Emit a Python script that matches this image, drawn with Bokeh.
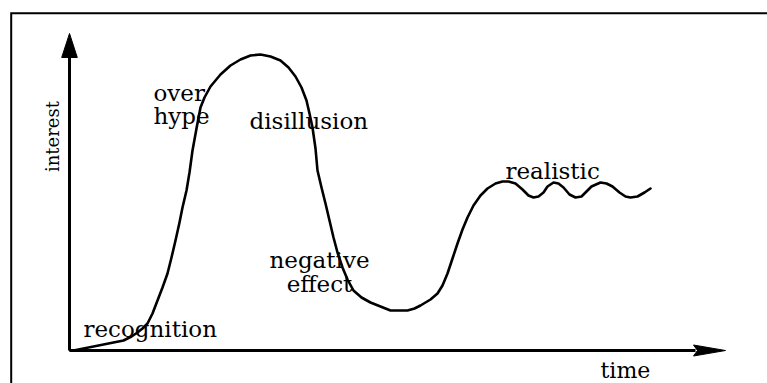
import numpy as np
from bokeh.plotting import figure
from bokeh.models import Range1d
from bokeh.core.properties import value
from bokeh.embed import file_html
from bokeh.resources import INLINE

# Hype-cycle curve (time, interest)
time = [1, 4, 14, 24, 39, 54, 62, 68, 73, 78, 83, 88, 93, 98, 102, 106, 110, 113, 117, 120,
        123, 127, 131, 135, 141, 151, 161, 171, 181, 191, 201, 211, 219, 226, 232, 237, 240,
        243, 246, 248, 252, 256, 260, 264, 268, 273, 278, 284, 292, 301, 311, 321, 331, 338,
        345, 351, 361, 368, 373, 378, 383, 388, 393, 398, 404, 411, 418, 426, 433, 439, 446,
        453, 459, 464, 469, 474, 478, 484, 489, 494, 500, 506, 512, 517, 522, 531, 537, 543,
        550, 556, 561, 568, 575, 581]
interest = [0, 0, 2, 4, 7, 10, 14, 18, 22, 27, 37, 50, 63, 77, 93, 110, 128, 143, 160, 178,
            200, 222, 243, 253, 264, 276, 285, 291, 295, 296, 294, 290, 283, 274, 263, 250, 237,
            223, 202, 180, 163, 147, 130, 113, 98, 83, 71, 60, 53, 48, 44, 40, 40, 40,
            42, 45, 51, 57, 65, 77, 92, 107, 121, 133, 145, 155, 162, 167, 169, 169, 167,
            161, 155, 153, 154, 158, 164, 168, 167, 163, 156, 153, 154, 159, 164, 168, 167, 164,
            158, 154, 153, 154, 158, 162]

# Annotation texts and their anchor points (left / baseline) in data units
label_text = ["over", "hype", "disillusion", "realistic", "recognition"]
label_x = [84, 84, 180, 436, 14]
label_y = [258, 235, 230, 180, 22]
neg_text = ["negative", "effect"]
neg_x = [250, 250]
neg_y = [91, 67]
x_title = "time"
y_title = "interest"

# Axis extents (data units)
X_END = 656
Y_END = 317

p = figure(width=767, height=383, x_range=Range1d(-69, 698), y_range=Range1d(-33, 350),
           output_backend="svg", toolbar_location=None, min_border=0,
           x_axis_type=None, y_axis_type=None, outline_line_color=None,
           background_fill_color="white", border_fill_color="white")
p.grid.visible = False

# outer frame (top and left edges visible)
p.line([-58.3, -58.3, 698], [-33, 337.3, 337.3], line_width=2, line_color="black",
       line_join="miter")

# axes with arrow heads
p.line([0, 0], [0, Y_END - 22], line_width=3, line_color="black")
p.line([0, X_END - 30], [0, 0], line_width=3, line_color="black")
p.patch([0, -7.8, 7.8], [Y_END, Y_END - 24, Y_END - 24], fill_color="black", line_color="black")
p.patch([X_END, X_END - 32, X_END - 28, X_END - 32], [0, 5.5, 0, -5.5],
        fill_color="black", line_color="black")

# curve
p.line(time, interest, line_width=2.6, line_color="black", line_join="round", line_cap="round")

font = value("DejaVu Serif")
p.text(x=label_x, y=label_y, text=label_text, text_font=font, text_font_size="23px",
       text_align="left", text_baseline="alphabetic", text_color="black")
p.text(x=neg_x, y=neg_y, text=neg_text, text_font=font, text_font_size="23px",
       text_align="center", text_baseline="alphabetic", text_color="black")
p.text(x=[531], y=[-20], text=[x_title], text_font=font, text_font_size="22px",
       text_align="left", text_baseline="alphabetic", text_color="black")
p.text(x=[-17], y=[214], text=[y_title], angle=np.pi / 2, text_font=font,
       text_font_size="18px", text_align="center", text_baseline="alphabetic",
       text_color="black")

open("out.html", "w").write(file_html(p, INLINE))
